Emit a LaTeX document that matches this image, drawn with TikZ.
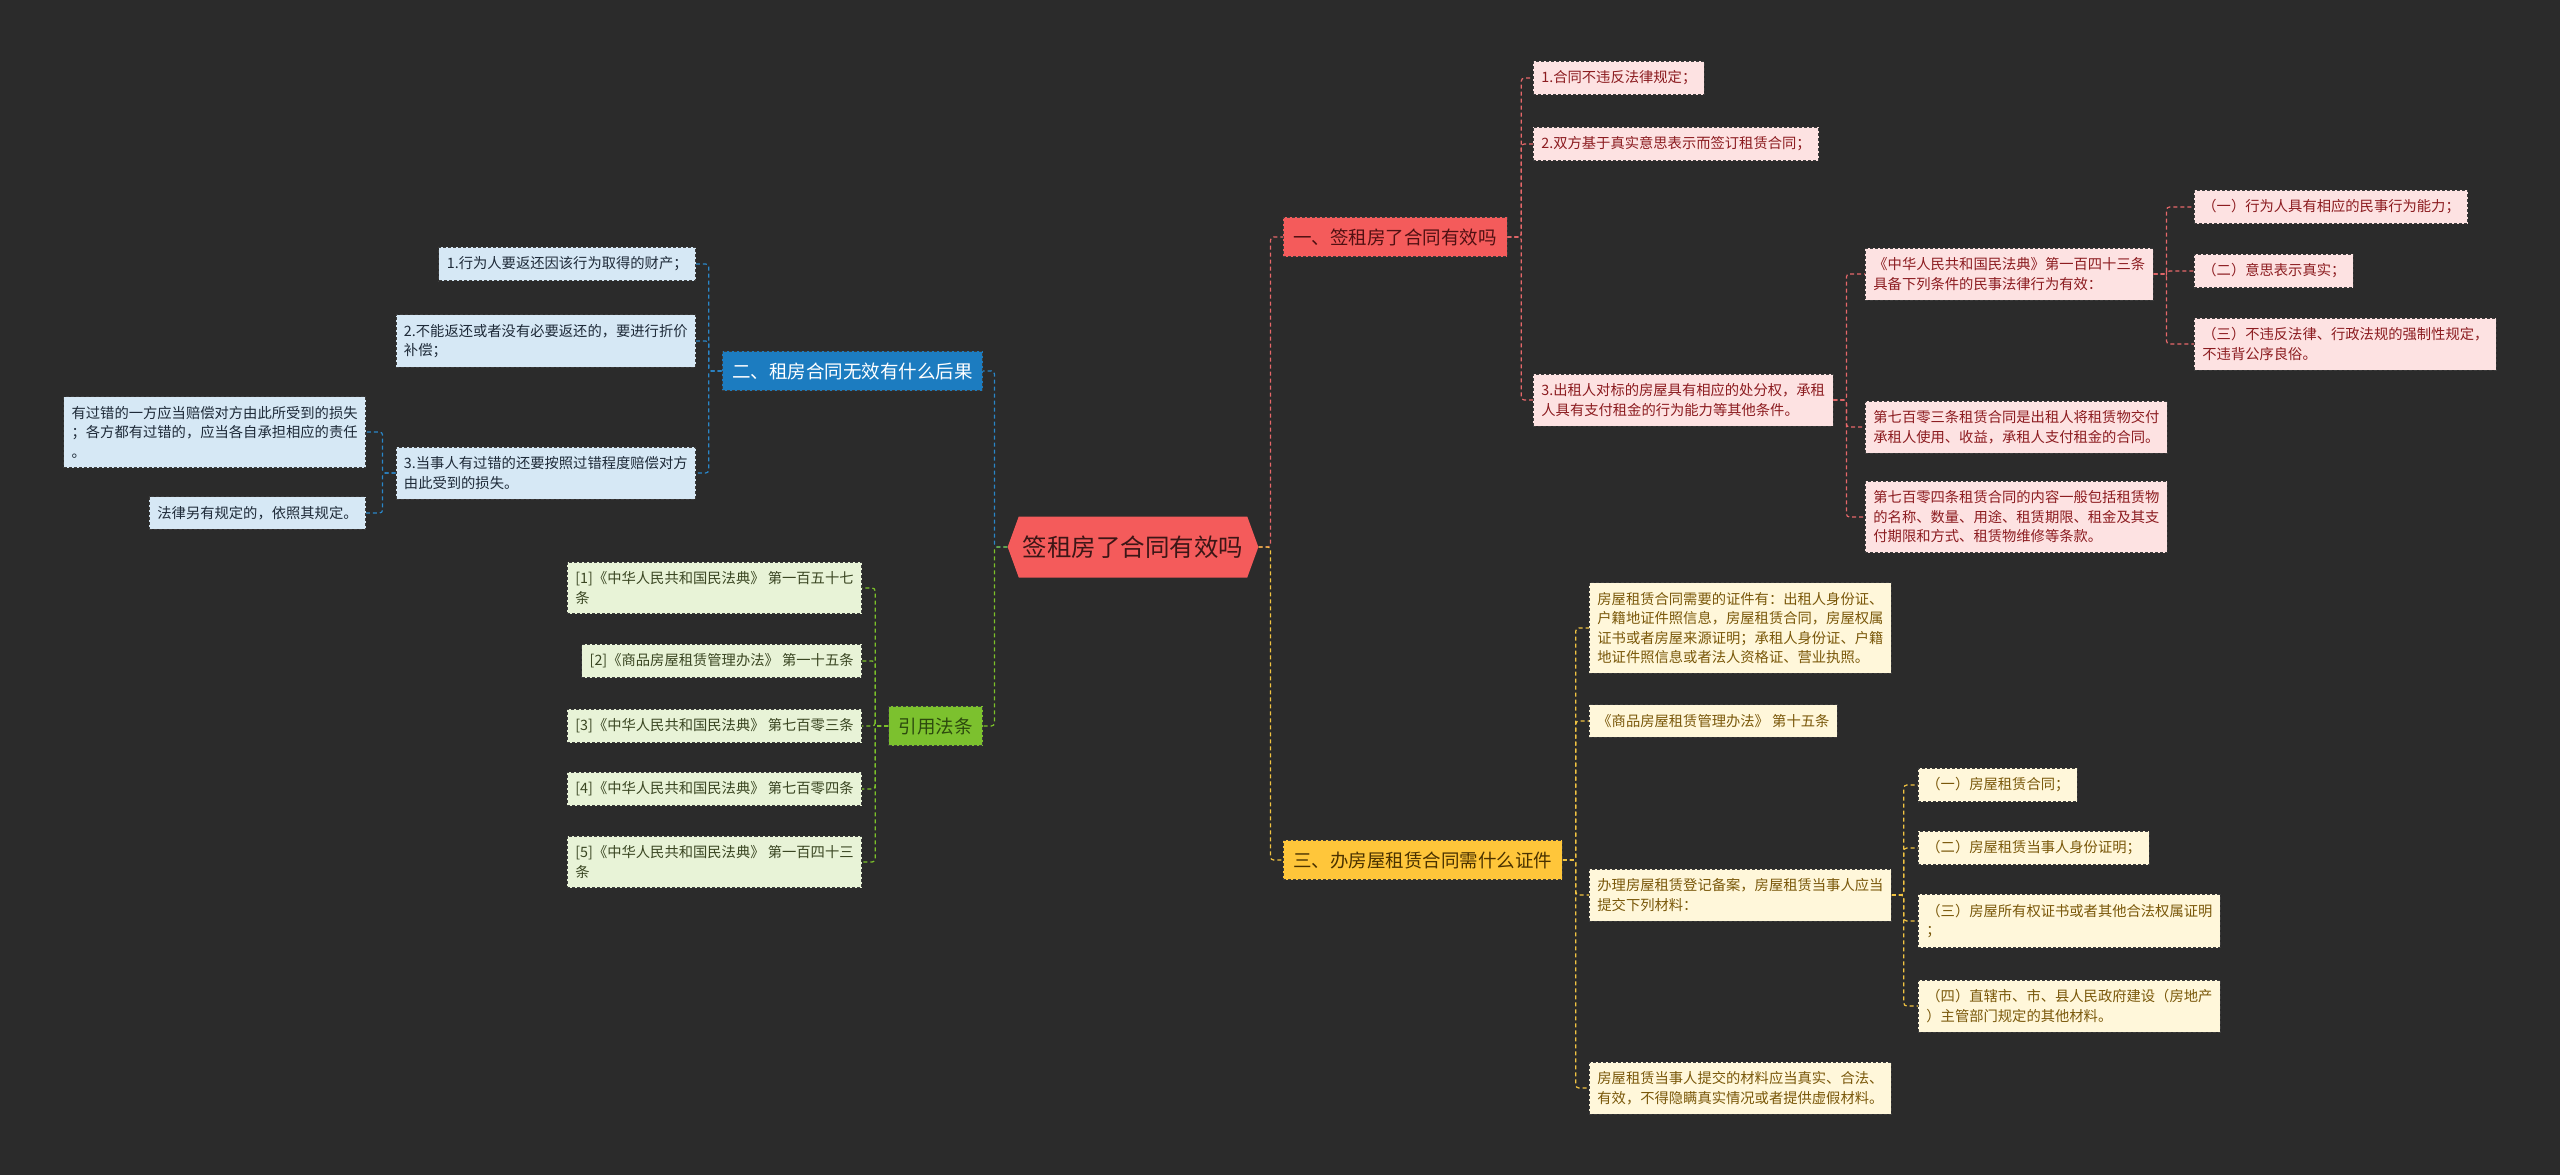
\documentclass[tikz,border=0pt]{standalone}
\usepackage{fontspec}
\setmainfont{Noto Sans CJK SC}
\usetikzlibrary{shapes.symbols}

\begin{document}
\begin{tikzpicture}[x=1pt,y=1pt,yscale=-1,
  box/.style={rectangle, draw={rgb,255:red,60;green,60;blue,60}, dash pattern=on 3pt off 2pt, line width=0.8pt, align=left, inner xsep=8pt, inner ysep=9.5pt, font=\fontsize{14.3}{19.5}\selectfont},
  branch/.style={box, inner xsep=10pt, inner ysep=11pt, font=\fontsize{18.5}{22}\selectfont},
  pinkleaf/.style={box, fill={rgb,255:red,253;green,226;blue,226}, text={rgb,255:red,140;green,28;blue,32}},
  blueleaf/.style={box, fill={rgb,255:red,214;green,232;blue,245}, text={rgb,255:red,30;green,42;blue,56}},
  greenleaf/.style={box, fill={rgb,255:red,232;green,243;blue,215}, text={rgb,255:red,58;green,70;blue,34}},
  creamleaf/.style={box, fill={rgb,255:red,255;green,247;blue,218}, text={rgb,255:red,122;green,88;blue,10}},
  link/.style={dash pattern=on 4pt off 3pt, line width=1.2pt, rounded corners=3pt},
  redlink/.style={link, color={rgb,255:red,231;green,104;blue,106}},
  bluelink/.style={link, color={rgb,255:red,42;green,134;blue,200}},
  greenlink/.style={link, color={rgb,255:red,124;green,194;blue,42}},
  yellowlink/.style={link, color={rgb,255:red,242;green,196;blue,66}}
]
%Background
\path[fill={rgb,255:red,43;green,43;blue,43}] (0,0) rectangle (2560,1175);

%Root
\node[signal, signal to=west and east, signal pointer angle=140, fill={rgb,255:red,244;green,91;blue,91}, text={rgb,255:red,60;green,22;blue,22}, minimum height=61pt, inner xsep=4pt, font=\fontsize{24.5}{28}\selectfont] (root) at (1133,547) {签租房了合同有效吗};

%Branch one
\node[branch, anchor=west, fill={rgb,255:red,244;green,91;blue,91}, text={rgb,255:red,80;green,16;blue,18}] (b1) at (1283,237) {一、签租房了合同有效吗};
\node[pinkleaf, anchor=west] (a1) at (1533,78) {1.合同不违反法律规定；};
\node[pinkleaf, anchor=west] (a2) at (1533,144) {2.双方基于真实意思表示而签订租赁合同；};
\node[pinkleaf, anchor=west] (a3) at (1533,400) {3.出租人对标的房屋具有相应的处分权，承租\\人具有支付租金的行为能力等其他条件。};
\node[pinkleaf, anchor=west] (d1) at (1865,274) {《中华人民共和国民法典》第一百四十三条\\具备下列条件的民事法律行为有效：};
\node[pinkleaf, anchor=west] (d2) at (1865,427) {第七百零三条租赁合同是出租人将租赁物交付\\承租人使用、收益，承租人支付租金的合同。};
\node[pinkleaf, anchor=west] (d3) at (1865,517) {第七百零四条租赁合同的内容一般包括租赁物\\的名称、数量、用途、租赁期限、租金及其支\\付期限和方式、租赁物维修等条款。};
\node[pinkleaf, anchor=west] (e1) at (2194,207) {（一）行为人具有相应的民事行为能力；};
\node[pinkleaf, anchor=west] (e2) at (2194,271) {（二）意思表示真实；};
\node[pinkleaf, anchor=west] (e3) at (2194,344) {（三）不违反法律、行政法规的强制性规定，\\不违背公序良俗。};

%Branch three
\node[branch, anchor=west, fill={rgb,255:red,255;green,198;blue,58}, text={rgb,255:red,74;green,50;blue,0}] (b3) at (1283,860) {三、办房屋租赁合同需什么证件};
\node[creamleaf, anchor=west] (f1) at (1589,628) {房屋租赁合同需要的证件有：出租人身份证、\\户籍地证件照信息，房屋租赁合同，房屋权属\\证书或者房屋来源证明；承租人身份证、户籍\\地证件照信息或者法人资格证、营业执照。};
\node[creamleaf, anchor=west] (f2) at (1589,721) {《商品房屋租赁管理办法》 第十五条};
\node[creamleaf, anchor=west] (f3) at (1589,895) {办理房屋租赁登记备案，房屋租赁当事人应当\\提交下列材料：};
\node[creamleaf, anchor=west] (f4) at (1589,1088) {房屋租赁当事人提交的材料应当真实、合法、\\有效，不得隐瞒真实情况或者提供虚假材料。};
\node[creamleaf, anchor=west] (g1) at (1918,785) {（一）房屋租赁合同；};
\node[creamleaf, anchor=west] (g2) at (1918,848) {（二）房屋租赁当事人身份证明；};
\node[creamleaf, anchor=west] (g3) at (1918,921) {（三）房屋所有权证书或者其他合法权属证明\\；};
\node[creamleaf, anchor=west] (g4) at (1918,1006) {（四）直辖市、市、县人民政府建设（房地产\\）主管部门规定的其他材料。};

%Branch two
\node[branch, anchor=east, fill={rgb,255:red,28;green,124;blue,192}, text=white] (b2) at (983,371) {二、租房合同无效有什么后果};
\node[blueleaf, anchor=east] (h1) at (696,264) {1.行为人要返还因该行为取得的财产；};
\node[blueleaf, anchor=east] (h2) at (696,341) {2.不能返还或者没有必要返还的，要进行折价\\补偿；};
\node[blueleaf, anchor=east] (h3) at (696,473) {3.当事人有过错的还要按照过错程度赔偿对方\\由此受到的损失。};
\node[blueleaf, anchor=east] (i1) at (366,432) {有过错的一方应当赔偿对方由此所受到的损失\\；各方都有过错的，应当各自承担相应的责任\\。};
\node[blueleaf, anchor=east] (i2) at (366,513) {法律另有规定的，依照其规定。};

%Branch four
\node[branch, anchor=east, fill={rgb,255:red,124;green,193;blue,46}, text={rgb,255:red,44;green,74;blue,14}] (b4) at (983,726) {引用法条};
\node[greenleaf, anchor=east] (j1) at (862,588) {[1]《中华人民共和国民法典》 第一百五十七\\条};
\node[greenleaf, anchor=east] (j2) at (862,661) {[2]《商品房屋租赁管理办法》 第一十五条};
\node[greenleaf, anchor=east] (j3) at (862,726) {[3]《中华人民共和国民法典》 第七百零三条};
\node[greenleaf, anchor=east] (j4) at (862,789) {[4]《中华人民共和国民法典》 第七百零四条};
\node[greenleaf, anchor=east] (j5) at (862,862) {[5]《中华人民共和国民法典》 第一百四十三\\条};

%Connectors
\draw[redlink] (root.east) -- ++(12,0) |- (b1.west);
\draw[yellowlink] (root.east) -- ++(12,0) |- (b3.west);
\draw[bluelink] (root.west) -- ++(-13,0) |- (b2.east);
\draw[greenlink] (root.west) -- ++(-13,0) |- (b4.east);
\foreach \c in {a1,a2,a3} \draw[redlink] (b1.east) -- ++(14,0) |- (\c.west);
\foreach \c in {d1,d2,d3} \draw[redlink] (a3.east) -- ++(13,0) |- (\c.west);
\foreach \c in {e1,e2,e3} \draw[redlink] (d1.east) -- ++(13,0) |- (\c.west);
\foreach \c in {f1,f2,f3,f4} \draw[yellowlink] (b3.east) -- ++(13,0) |- (\c.west);
\foreach \c in {g1,g2,g3,g4} \draw[yellowlink] (f3.east) -- ++(12,0) |- (\c.west);
\foreach \c in {h1,h2,h3} \draw[bluelink] (b2.west) -- ++(-13,0) |- (\c.east);
\foreach \c in {i1,i2} \draw[bluelink] (h3.west) -- ++(-13,0) |- (\c.east);
\foreach \c in {j1,j2,j3,j4,j5} \draw[greenlink] (b4.west) -- ++(-13,0) |- (\c.east);

\end{tikzpicture}
\end{document}
